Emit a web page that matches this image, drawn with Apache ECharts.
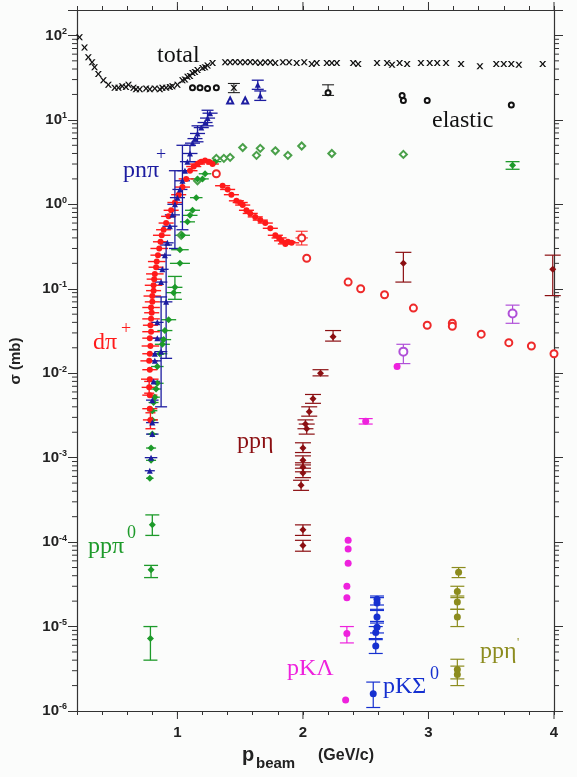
<!DOCTYPE html>
<html>
<head>
<meta charset="utf-8">
<script src="https://cdn.jsdelivr.net/npm/echarts@6/dist/echarts.min.js"></script>
<style>
html,body{margin:0;padding:0;background:#fbfcfb}
#main{width:577px;height:777px}
</style>
</head>
<body>
<div id="main"></div>
<script>
// rows: [p_beam (GeV/c), sigma (mb), sigmaLow, sigmaHigh, dp]   (0 = no error bar)
var total = [
  [0.22,95],[0.26,72],[0.29,55],[0.32,48],[0.34,42],[0.37,35],[0.41,29.5],[0.45,26],[0.50,24],[0.53,24],
  [0.56,25],[0.59,24.5],[0.61,26],[0.65,24],[0.67,23],[0.70,23],[0.75,23.5],[0.78,23],[0.82,23.5],[0.86,23],
  [0.88,24],[0.91,24],[0.94,24.5],[0.96,25],[1.00,26],[1.04,29.5],[1.06,30],[1.08,32.5],[1.10,33],[1.12,36],
  [1.14,37],[1.16,39],[1.20,41],[1.22,42],[1.24,44],[1.28,47],[1.38,48],[1.42,48],[1.45,24,21,27],[1.46,48.5],
  [1.50,48],[1.54,48],[1.58,48.5],[1.62,48],[1.66,47],[1.70,48],[1.74,48],[1.78,47],[1.84,48],[1.89,48],
  [1.95,47],[2.01,48],[2.07,46],[2.11,47],[2.19,47],[2.23,47],[2.27,47],[2.40,47],[2.44,46],[2.59,47],
  [2.67,47],[2.71,45],[2.77,47],[2.83,46],[2.94,47],[3.01,47],[3.07,47],[3.14,47],[3.26,46],[3.41,43],
  [3.54,46],[3.60,46],[3.66,46],[3.72,45],[3.91,46]
];
var elastic = [
  [1.12,24],[1.18,24],[1.24,23.5],[1.31,24],[2.20,21,19.5,26],[2.79,19.5],[2.80,17],[2.99,17],[3.66,15]
];
var pnpi = [
  [0.78,7e-4,0,0,0.04],[0.79,0.0010,0,0,0.05],[0.80,0.0019,0,0,0.05],[0.80,0.0026,0,0,0.05],
  [0.80,0.0048,0,0,0.05],[0.81,0.008,0,0,0.05],[0.82,0.014,0,0,0.05],[0.82,0.017,0,0,0.05],
  [0.87,0.018,0.004,0.08,0.05],[0.84,0.026,0,0,0.05],[0.84,0.04,0,0,0.05],[0.91,0.07,0.015,0.33,0.05],
  [0.87,0.12,0,0,0.05],[0.88,0.17,0,0,0.05],[0.90,0.25,0,0,0.05],[0.92,0.35,0,0,0.05],
  [0.94,0.55,0,0,0.06],[0.96,0.75,0,0,0.06],[0.98,1.0,0.3,2.5,0.06],[1.00,1.2,0,0,0.06],
  [1.02,1.5,0,0,0.06],[1.04,1.9,0.5,5.0,0.06],[1.06,2.5,0,0,0.06],[1.08,3.2,0,0,0.06],
  [1.10,4.0,3.2,5.0,0.06],[1.12,5.3,0,0,0.06],[1.14,6.0,0,0,0.06],[1.16,6.9,5.5,8.5,0.06],
  [1.19,8.1,0,0,0.06],[1.22,9.3,0,0,0.06],[1.24,10.5,8.5,13,0.06],[1.26,12,0,0,0.06],
  [1.64,26,23,29.5],[1.66,19.5,17,22]
];
var pnpiOpen = [[1.42,17],[1.54,17]];
var dpip = [
  [0.785,0.0028,0.0022,0.0034,0.06],[0.78,0.0038,0,0,0.06],[0.78,0.0055,0,0,0.06],[0.775,0.0068,0.0058,0.008,0.06],
  [0.78,0.0085,0,0,0.07],[0.78,0.011,0,0,0.06],[0.775,0.014,0,0,0.07],[0.78,0.017,0,0,0.06],
  [0.785,0.021,0,0,0.07],[0.78,0.026,0,0,0.06],[0.79,0.031,0,0,0.07],[0.785,0.037,0,0,0.06],
  [0.79,0.044,0,0,0.07],[0.795,0.052,0,0,0.06],[0.79,0.06,0,0,0.07],[0.80,0.07,0,0,0.06],
  [0.80,0.082,0,0,0.07],[0.81,0.095,0,0,0.06],[0.81,0.11,0,0,0.07],[0.815,0.13,0,0,0.06],
  [0.82,0.15,0,0,0.07],[0.83,0.18,0,0,0.06],[0.835,0.21,0,0,0.07],[0.845,0.25,0,0,0.06],
  [0.855,0.30,0,0,0.07],[0.865,0.36,0,0,0.06],[0.875,0.43,0,0,0.07],[0.89,0.50,0,0,0.06],
  [0.91,0.60,0,0,0.06],[0.93,0.72,0,0,0.06],[0.95,0.85,0,0,0.06],[0.98,1.05,0,0,0.06],
  [1.01,1.3,0,0,0.06],[1.04,1.6,0,0,0.06],[1.07,2.0,0,0,0.06],[1.10,2.5,0,0,0.06],
  [1.13,2.8,0,0,0.06],[1.16,3.0,0,0,0.06],[1.19,3.2,0,0,0.06],[1.22,3.3,0,0,0.06],
  [1.25,3.2,0,0,0.05],[1.28,3.0,0,0,0.05],
  [1.36,1.66,0,0,0.06],[1.40,1.5,0,0,0.06],[1.43,1.3,0,0,0.06],[1.47,1.1,0,0,0.06],
  [1.50,1.05,0,0,0.06],[1.52,0.98,0,0,0.06],[1.55,0.85,0,0,0.06],[1.58,0.78,0,0,0.06],
  [1.62,0.71,0,0,0.06],[1.66,0.65,0,0,0.06],[1.70,0.6,0,0,0.06],[1.74,0.52,0,0,0.06],
  [1.78,0.43,0,0,0.06],[1.81,0.4,0,0,0.06],[1.83,0.37,0,0,0.06],[1.86,0.34,0,0,0.06],
  [1.88,0.36,0,0,0.06],[1.91,0.35,0,0,0.06]
];
var dpipOpen = [
  [1.31,2.3],[1.99,0.40,0.33,0.48,0.05],[2.03,0.23],[2.36,0.12],[2.46,0.10],[2.65,0.085],[2.88,0.059],
  [2.99,0.037],[3.19,0.039],[3.19,0.036],[3.42,0.029],[3.64,0.023],[3.82,0.021],[4.0,0.017]
];
var pppi0 = [
  [0.78,5.7e-4,0,0,0.03],[0.79,9.3e-4,0,0,0.04],[0.79,0.0013,0,0,0.04],[0.80,0.0019,0,0,0.04],
  [0.80,0.0028,0,0,0.04],[0.80,0.0036,0,0,0.04],[0.81,0.0045,0,0,0.04],[0.82,0.0052,0,0,0.04],
  [0.83,0.0065,0,0,0.04],[0.84,0.0076,0,0,0.05],[0.84,0.012,0,0,0.05],[0.86,0.017,0,0,0.06],
  [0.88,0.022,0,0,0.06],[0.89,0.025,0,0,0.06],[0.90,0.032,0,0,0.06],[0.93,0.043,0,0,0.06],
  [0.97,0.09,0,0,0.06],[0.98,0.104,0.075,0.14,0.06],[1.02,0.2,0,0,0.08],[1.02,0.29,0,0,0.07],
  [1.04,0.43,0,0,0.06],[1.08,0.62,0,0,0.06],[1.10,0.74,0,0,0.06],[1.12,0.85,0,0,0.06],
  [1.15,1.2,0,0,0.05],[1.16,2.0,0,0,0.05],[1.20,2.0,0,0,0.05],[1.22,2.3,0,0,0.05],[1.30,3.2,0,0,0.05],
  [0.80,1.6e-4,1.2e-4,2.1e-4],[0.79,4.7e-5,3.8e-5,5.3e-5],[0.785,7.2e-6,4e-6,1e-5],
  [3.67,2.9,2.6,3.2]
];
var pppi0Open = [
  [1.03,0.43],[1.16,1.9],[1.31,3.5],[1.37,3.5],[1.42,3.6],[1.52,4.7],[1.63,3.8],[1.66,4.6],
  [1.78,4.3],[1.88,3.8],[1.99,4.9],[2.23,4.0],[2.80,3.9]
];
var ppeta = [
  [1.985,4.7e-4,4.1e-4,5.4e-4],[2.0,6.6e-4,5.8e-4,7.5e-4],[2.0,7.7e-4,6.8e-4,8.7e-4],[2.0,9.3e-4,8.2e-4,1.05e-3],
  [2.0,1.3e-3,1.15e-3,1.5e-3],[2.03,2.2e-3,1.9e-3,2.5e-3],[2.02,2.5e-3,2.2e-3,2.8e-3],[2.05,3.5e-3,3.1e-3,4.0e-3],
  [2.08,5.0e-3,4.4e-3,5.6e-3],[2.14,0.010,0.0093,0.011],[2.24,0.027,0.024,0.032],[2.80,0.20,0.12,0.27],
  [3.99,0.17,0.083,0.25],[2.0,1.4e-4,1.2e-4,1.6e-4],[2.0,9.1e-5,7.8e-5,1.05e-4]
];
var pkl = [
  [2.36,1.05e-4],[2.36,8.3e-5],[2.36,5.6e-5],[2.35,3.0e-5],[2.35,2.2e-5],[2.35,8.3e-6,6.4e-6,1.0e-5],
  [2.34,1.35e-6],[2.50,2.7e-3,2.5e-3,2.9e-3],[2.75,0.012]
];
var pklOpen = [[2.80,0.018,0.013,0.022],[3.67,0.051,0.039,0.064]];
var pks0 = [
  [2.59,2.1e-5,1.8e-5,2.3e-5],[2.59,1.9e-5,1.6e-5,2.2e-5],[2.59,1.3e-5,1.1e-5,1.55e-5],[2.59,9.8e-6,8.4e-6,1.15e-5],
  [2.58,8.5e-6,7.2e-6,1.0e-5],[2.58,5.9e-6,4.8e-6,7.0e-6],[2.56,1.6e-6,1.1e-6,2.2e-6]
];
var ppetap = [
  [3.24,4.4e-5,3.8e-5,5.0e-5],[3.23,2.6e-5,2.2e-5,3.0e-5],[3.23,1.95e-5,1.6e-5,2.3e-5],[3.23,1.3e-5,1.0e-5,1.6e-5],
  [3.23,3.1e-6,2.4e-6,4.1e-6],[3.23,2.7e-6,2.0e-6,3.4e-6]
];
var xLabels = [1, 2, 3, 4];
var yDecades = [-6, -5, -4, -3, -2, -1, 0, 1, 2];

var xMin = 0.2, xMax = 4, yMin = 1e-6, yMax = 200;

var myChart = echarts.init(document.getElementById('main'));

function seg(x1, y1, x2, y2, color, w) {
  return {type: 'line', shape: {x1: x1, y1: y1, x2: x2, y2: y2}, style: {stroke: color, lineWidth: w || 1}};
}

// error bars drawn through the axes' coordinate system
function errBars(rows, color, cap, w) {
  return {
    type: 'custom',
    silent: true,
    z: 2,
    encode: {x: 0, y: 1},
    data: rows.map(function (r) { return [r[0], r[1], r[2] || 0, r[3] || 0, r[4] || 0]; }),
    renderItem: function (params, api) {
      var p = api.value(0), s = api.value(1), lo = api.value(2), hi = api.value(3), dp = api.value(4);
      var kids = [];
      if (lo > 0 && hi > 0) {
        var a = api.coord([p, lo]), b = api.coord([p, hi]);
        kids.push(seg(a[0], a[1], b[0], b[1], color, w));
        if (cap) {
          kids.push(seg(a[0] - cap, a[1], a[0] + cap, a[1], color, w));
          kids.push(seg(b[0] - cap, b[1], b[0] + cap, b[1], color, w));
        }
      }
      if (dp > 0) {
        var l = api.coord([p - dp, s]), r = api.coord([p + dp, s]);
        kids.push(seg(l[0], l[1], r[0], r[1], color, w));
      }
      return {type: 'group', children: kids};
    }
  };
}

function dots(rows, symbol, size, color, z) {
  return {
    type: 'scatter',
    silent: true,
    z: z || 3,
    symbol: symbol,
    symbolSize: size,
    itemStyle: {color: color, opacity: 1, borderWidth: symbol.indexOf('empty') === 0 ? 1.3 : 0},
    data: rows.map(function (r) { return [r[0], r[1]]; })
  };
}

// minor log ticks on left and right y axes
var minorY = [];
for (var k = -6; k < 2; k++) {
  for (var m = 2; m <= 9; m++) minorY.push([xMin, m * Math.pow(10, k)]);
}
var minorTicks = {
  type: 'custom', silent: true, z: 1,
  encode: {x: 0, y: 1},
  data: minorY,
  renderItem: function (params, api) {
    var l = api.coord([xMin, api.value(1)]), r = api.coord([xMax, api.value(1)]);
    return {type: 'group', children: [
      seg(l[0] - 5, l[1], l[0], l[1], '#333'),
      seg(r[0], r[1], r[0] + 5, r[1], '#333')
    ]};
  }
};
var majorX = {
  type: 'custom', silent: true, z: 1,
  encode: {x: 0, y: 1},
  data: xLabels.map(function (v) { return [v, yMin]; }),
  renderItem: function (params, api) {
    var b = api.coord([api.value(0), yMin]), t = api.coord([api.value(0), yMax]);
    return {type: 'group', children: [
      seg(b[0], b[1], b[0], b[1] + 8, '#333'),
      seg(t[0], t[1] - 8, t[0], t[1], '#333')
    ]};
  }
};

var axisStyle = {lineStyle: {color: '#333', width: 1.2}};
var serif = 'Liberation Serif, DejaVu Serif, serif';
var sans = 'Liberation Sans, Arial, sans-serif';

function label(text, x, y, color, size) {
  return {
    type: 'text', x: x, y: y, silent: true,
    style: {text: text, fill: color, fontSize: size || 24, fontFamily: serif, verticalAlign: 'middle', align: 'left'}
  };
}

myChart.setOption({
  backgroundColor: '#fbfcfb',
  animation: false,
  grid: {left: 77, right: 23, top: 10, bottom: 66},
  xAxis: [
    {
      type: 'value', min: xMin, max: xMax, interval: 0.2, position: 'bottom',
      axisLine: axisStyle,
      axisTick: {length: 4, lineStyle: {color: '#333'}},
      splitLine: {show: false},
      axisLabel: {
        margin: 14, fontSize: 15, fontWeight: 'bold', fontFamily: sans, color: '#222',
        formatter: function (v) {
          var n = Math.round(v);
          return (Math.abs(v - n) < 1e-6 && xLabels.indexOf(n) >= 0) ? String(n) : '';
        }
      }
    },
    {
      type: 'value', min: xMin, max: xMax, interval: 0.2, position: 'top',
      axisLine: axisStyle,
      axisTick: {length: 4, lineStyle: {color: '#333'}},
      splitLine: {show: false},
      axisLabel: {show: false}
    }
  ],
  yAxis: [
    {
      type: 'log', logBase: 10, min: yMin, max: yMax, position: 'left',
      axisLine: axisStyle,
      axisTick: {length: 9, lineStyle: {color: '#333'}},
      splitLine: {show: false},
      minorTick: {show: false},
      axisLabel: {
        margin: 10,
        formatter: function (v) {
          var e = Math.round(Math.log10(v));
          if (Math.abs(Math.log10(v) - e) > 1e-6 || yDecades.indexOf(e) < 0) return '';
          return '{b|10}{s|' + e + '}';
        },
        rich: {
          b: {fontSize: 15, fontWeight: 'bold', fontFamily: sans, color: '#222'},
          s: {fontSize: 9, fontWeight: 'bold', fontFamily: sans, color: '#222', verticalAlign: 'top', padding: [0, 0, 8, 0]}
        }
      }
    },
    {
      type: 'log', logBase: 10, min: yMin, max: yMax, position: 'right',
      axisLine: axisStyle,
      axisTick: {length: 9, lineStyle: {color: '#333'}},
      splitLine: {show: false},
      axisLabel: {show: false}
    }
  ],
  series: [
    minorTicks,
    majorX,
    errBars(total, '#111', 6),
    errBars(elastic, '#111', 6),
    errBars(pppi0, '#1d9a2a', 7, 1.3),
    errBars(dpip, '#ff1a1a', 5, 1.4),
    errBars(dpipOpen, '#ff1a1a', 6),
    errBars(pnpi, '#1c1ca0', 6, 1.3),
    errBars(ppeta, '#8b0f12', 8, 1.2),
    errBars(pkl, '#ee22dd', 7, 1.2),
    errBars(pklOpen, '#b050d8', 7, 1.2),
    errBars(pks0, '#1530d0', 7, 1.2),
    errBars(ppetap, '#8c8c1e', 7, 1.2),
    dots(total, 'path://M0,0H2.5L5,3L7.5,0H10L6.3,4L10,8H7.5L5,5L2.5,8H0L3.7,4Z', [7, 6], '#111'),
    dots(elastic, 'emptyCircle', 5, '#111'),
    dots(pppi0Open, 'emptyDiamond', 7, '#4aa04a'),
    dots(pppi0, 'diamond', 7, '#1d9a2a'),
    dots(dpip, 'circle', 6, '#ff1a1a'),
    dots(dpipOpen, 'emptyCircle', 7, '#ee2a2a'),
    dots(pnpiOpen, 'emptyTriangle', 6, '#1c1ca0'),
    dots(pnpi, 'triangle', 6, '#1c1ca0', 4),
    dots(ppeta, 'diamond', 7, '#8b0f12'),
    dots(pkl, 'circle', 7, '#ee22dd'),
    dots(pklOpen, 'emptyCircle', 8, '#b050d8'),
    dots(pks0, 'circle', 7, '#1530d0'),
    dots(ppetap, 'circle', 7, '#8c8c1e')
  ],
  graphic: [
    label('total', 157, 56, '#111'),
    label('elastic', 432, 121, '#111'),
    label('pnπ', 123, 171, '#1c1ca0'),
    label('+', 156, 155, '#1c1ca0', 18),
    label('dπ', 93, 343, '#ff1a1a'),
    label('+', 121, 329, '#ff1a1a', 18),
    label('ppη', 237, 442, '#8b0f12'),
    label('ppπ', 88, 547, '#1d9a2a'),
    label('0', 127, 533, '#1d9a2a', 18),
    label('pKΛ', 287, 669, '#ee22dd'),
    label('pKΣ', 383, 687, '#1530d0'),
    label('0', 430, 674, '#1530d0', 18),
    label('ppη', 480, 652, '#8c8c1e'),
    label('\'', 517, 643, '#8c8c1e', 12),
    {
      type: 'text', x: 16, y: 361, rotation: Math.PI / 2, silent: true,
      style: {text: 'σ (mb)', fill: '#222', fontSize: 15, fontWeight: 'bold', fontFamily: sans, align: 'center', verticalAlign: 'middle'}
    },
    {type: 'text', x: 242, y: 755, silent: true,
      style: {text: 'p', fill: '#222', fontSize: 20, fontWeight: 'bold', fontFamily: sans, verticalAlign: 'middle'}},
    {type: 'text', x: 256, y: 764, silent: true,
      style: {text: 'beam', fill: '#222', fontSize: 15, fontWeight: 'bold', fontFamily: sans, verticalAlign: 'middle'}},
    {type: 'text', x: 318, y: 756, silent: true,
      style: {text: '(GeV/c)', fill: '#222', fontSize: 16, fontWeight: 'bold', fontFamily: sans, verticalAlign: 'middle'}}
  ]
});
</script>
</body>
</html>
